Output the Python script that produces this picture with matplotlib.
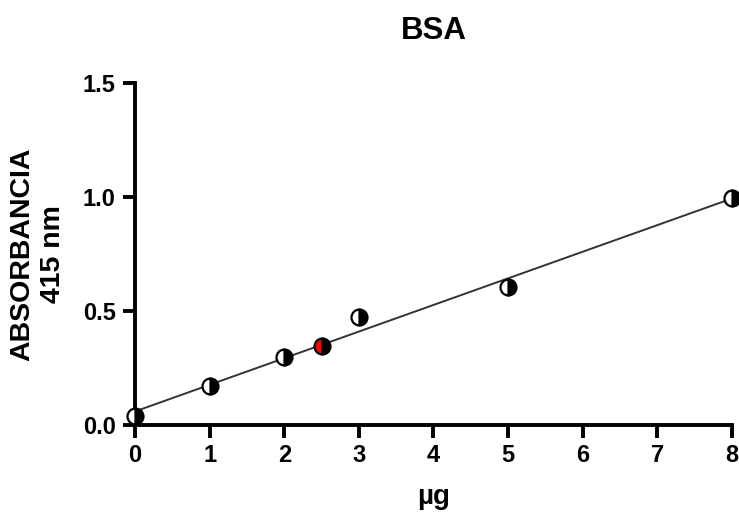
import numpy as np
import matplotlib.pyplot as plt

plt.rcParams['font.family'] = ['Liberation Sans', 'DejaVu Sans']
plt.rcParams['font.weight'] = 'bold'

# BSA standard curve
ug = [0, 1, 2, 2.5, 3, 5, 8]
absorbance = [0.04, 0.172, 0.298, 0.345, 0.472, 0.604, 0.996]
alt_colors = ['white', 'white', 'white', 'red', 'white', 'white', 'white']

x_ticks = [0, 1, 2, 3, 4, 5, 6, 7, 8]
y_ticks = [0.0, 0.5, 1.0, 1.5]

fig = plt.figure(figsize=(7.39, 5.19), dpi=100)
ax = fig.add_axes([0.1827, 0.1811, 0.8078, 0.659])

# linear fit
slope, intercept = np.polyfit(ug, absorbance, 1)
xfit = np.array([0, 8])
ax.plot(xfit, slope * xfit + intercept, color='#333333', lw=1.4, zorder=2)

for x, y, c in zip(ug, absorbance, alt_colors):
    ax.plot(x, y, 'o', ms=11.5, fillstyle='right', markerfacecolor='black',
            markerfacecoloralt=c, markeredgecolor='black', markeredgewidth=1.6,
            clip_on=False, zorder=3)

ax.set_xlim(0, 8)
ax.set_ylim(0, 1.5)
ax.set_xticks(x_ticks)
ax.set_yticks(y_ticks)
ax.set_yticklabels(['%.1f' % v for v in y_ticks])

for s in ['top', 'right']:
    ax.spines[s].set_visible(False)
for s in ['left', 'bottom']:
    ax.spines[s].set_linewidth(2.8)
ax.tick_params(width=2.8, length=9, labelsize=17, pad=5)
for lab in ax.get_xticklabels() + ax.get_yticklabels():
    lab.set_fontweight('bold')

ax.set_title('BSA', fontsize=22.5, fontweight='bold', pad=32)
ax.set_xlabel('µg', fontsize=20, fontweight='bold', labelpad=12)
ax.set_ylabel('ABSORBANCIA\n415 nm', fontsize=20.5, fontweight='bold',
              labelpad=12, linespacing=1.25)

fig.savefig('out.png', dpi=100)
